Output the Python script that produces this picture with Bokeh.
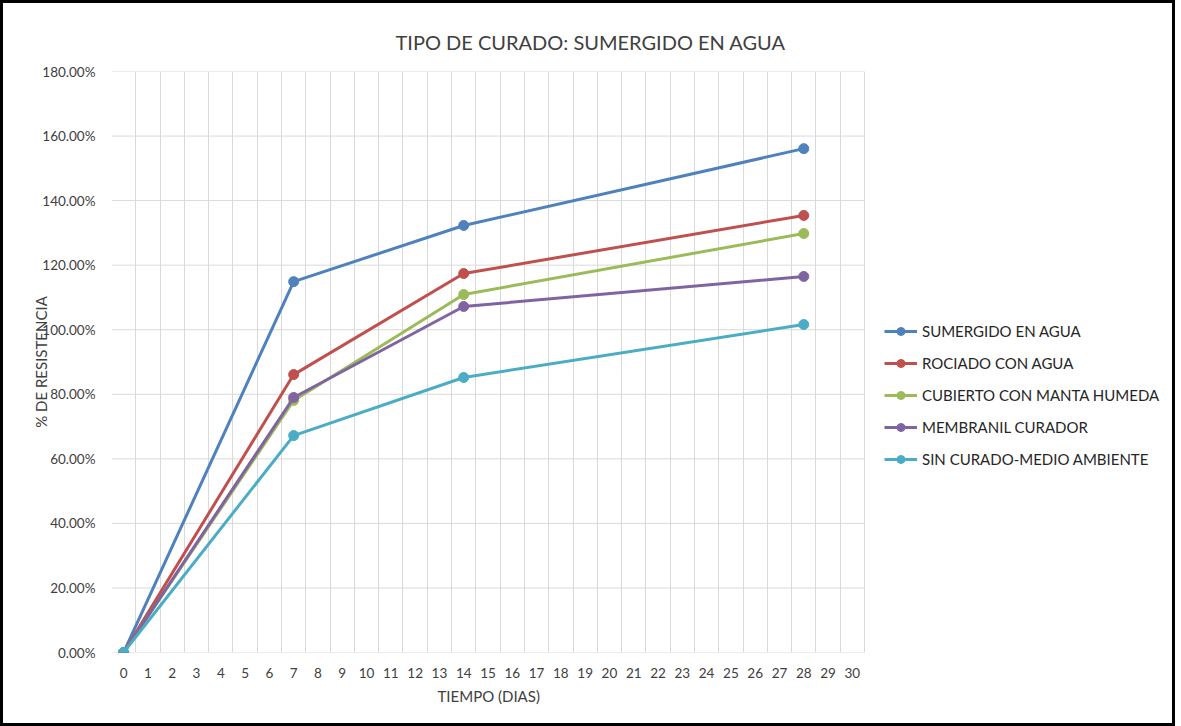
from bokeh.plotting import figure
from bokeh.models import (Legend, LegendItem, NumeralTickFormatter, FixedTicker,
                          Range1d, Title)
from bokeh.embed import file_html
from bokeh.resources import INLINE

# ---- data ----
days = [0, 7, 14, 28]
series_names = ["SUMERGIDO EN AGUA", "ROCIADO CON AGUA", "CUBIERTO CON MANTA HUMEDA",
                "MEMBRANIL CURADOR", "SIN CURADO-MEDIO AMBIENTE"]
sumergido = [0.0, 1.149, 1.323, 1.561]
rociado = [0.0, 0.861, 1.174, 1.354]
cubierto = [0.0, 0.781, 1.109, 1.298]
membranil = [0.0, 0.790, 1.072, 1.165]
sin_curado = [0.0, 0.672, 0.852, 1.016]
colors = ["#4F81BD", "#C0504D", "#9BBB59", "#8064A2", "#4BACC6"]
x_ticks = list(range(0, 31))
y_ticks = [0.0, 0.2, 0.4, 0.6, 0.8, 1.0, 1.2, 1.4, 1.6, 1.8]

FONT = "Lato"
TXT = "#404040"

PLOT_W = 753          # width of the gridded plot area in px
FRAME_W = 1061        # frame includes the legend area on the right
x_start = -0.5
x_end = x_start + 31 * FRAME_W / PLOT_W

p = figure(frame_width=FRAME_W, frame_height=581, output_backend="svg", toolbar_location=None,
           x_range=Range1d(x_start, x_end), y_range=Range1d(0, 1.8),
           min_border_left=108, min_border_right=0, min_border_top=68,
           min_border_bottom=71, title=None)
p.styles = {"border": "3px solid black"}
p.outline_line_color = None
p.background_fill_color = "white"
p.border_fill_color = "white"

t = Title(text="TIPO DE CURADO: SUMERGIDO EN AGUA", align="left", offset=284,
          text_font=FONT, text_font_size="20px", text_font_style="normal",
          text_color=TXT, standoff=36)
p.add_layout(t, "above")

# grids: vertical lines between categories, horizontal lines only over the plot area
p.xgrid.ticker = FixedTicker(ticks=[i - 0.5 for i in range(0, 32)])
p.xgrid.grid_line_color = "#D9D9D9"
p.ygrid.grid_line_color = None
p.segment(x0=[-0.5] * len(y_ticks), x1=[30.5] * len(y_ticks), y0=y_ticks, y1=y_ticks,
          line_color="#D9D9D9", line_width=1, level="underlay")

# axes
p.xaxis.ticker = FixedTicker(ticks=x_ticks)
p.yaxis.ticker = FixedTicker(ticks=y_ticks)
p.yaxis.formatter = NumeralTickFormatter(format="0.00%")
for ax in (p.xaxis[0], p.yaxis[0]):
    ax.major_tick_line_color = None
    ax.minor_tick_line_color = None
    ax.major_label_text_font = FONT
    ax.major_label_text_font_size = "13.5px"
    ax.major_label_text_color = TXT
    ax.axis_label_text_font = FONT
    ax.axis_label_text_font_size = "15px"
    ax.axis_label_text_font_style = "normal"
    ax.axis_label_text_color = TXT
p.xaxis.axis_line_color = None
p.yaxis.axis_line_color = None
p.yaxis.axis_label = "% DE RESISTENCIA"
p.xaxis.major_label_standoff = 9
p.yaxis.major_label_standoff = 10
p.yaxis.axis_label_standoff = -11

xt = Title(text="TIEMPO (DIAS)", align="left", offset=326, text_font=FONT,
           text_font_size="15px", text_font_style="normal", text_color=TXT, standoff=8)
p.add_layout(xt, "below")

items = []
for name, vals, c in zip(series_names, [sumergido, rociado, cubierto, membranil, sin_curado], colors):
    r1 = p.line(days, vals, line_color=c, line_width=3)
    r2 = p.scatter(days, vals, size=10, fill_color=c, line_color=c)
    items.append(LegendItem(label=name, renderers=[r1, r2]))

legend = Legend(items=items, location=(PLOT_W + 20, 183), border_line_color=None,
                background_fill_alpha=0, label_text_font=FONT,
                label_text_font_size="15px", label_text_color="#262626",
                glyph_width=33, spacing=12, label_standoff=5, padding=6, margin=0)
p.add_layout(legend, "center")

open("out.html", "w").write(file_html(p, INLINE))
